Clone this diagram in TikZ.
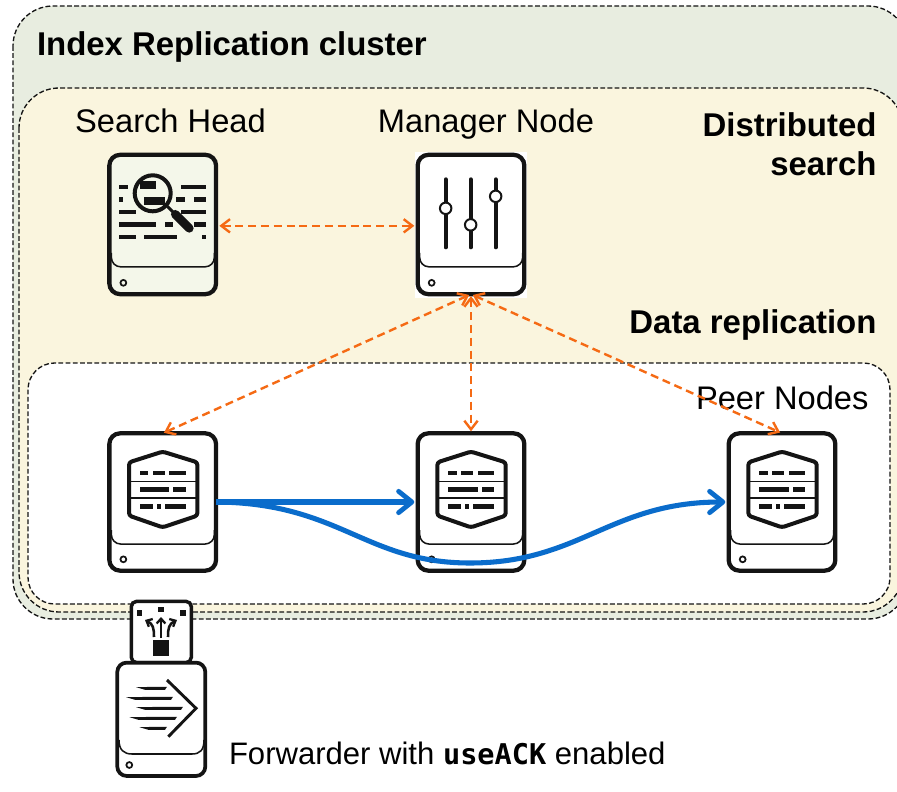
\documentclass[tikz,border=0pt]{standalone}
\usepackage{fontspec}
\setmainfont{Liberation Sans}
\newfontfamily\monob[Scale=0.92]{DejaVu Sans Mono}
\usetikzlibrary{arrows.meta}
\definecolor{outerfill}{HTML}{E8EDE0}
\definecolor{midfill}{HTML}{FAF5DE}
\definecolor{shfill}{HTML}{F4F7EA}
\definecolor{ink}{HTML}{141414}
\definecolor{orangeln}{HTML}{F56A14}
\definecolor{blueln}{HTML}{0A6CCB}
\tikzset{
  frame/.style={draw=ink,line width=1pt,dash pattern=on 3.6pt off 1.8pt,rounded corners=#1},
  server/.style={draw=ink,fill=white,line width=3.2pt,rounded corners=8pt,inner sep=0pt,outer sep=0pt,minimum width=80pt,minimum height=104.5pt},
  fwdbox/.style={draw=ink,fill=white,line width=2.8pt,rounded corners=7pt,inner sep=0pt,outer sep=0pt,minimum width=66pt,minimum height=85pt},
  usbbox/.style={draw=ink,fill=white,line width=2.6pt,inner sep=0pt,outer sep=0pt,minimum width=45pt,minimum height=45pt},
  lab/.style={font=\fontsize{24.5}{29}\selectfont,text=black,inner sep=0pt,outer sep=0pt},
  flab/.style={font=\fontsize{23.3}{28}\selectfont,text=black,inner sep=0pt,outer sep=0pt},
  blab/.style={font=\fontsize{24.7}{29.5}\selectfont\bfseries,text=black,inner sep=0pt,outer sep=0pt},
  ctrl/.style={draw=orangeln,line width=1.8pt,dash pattern=on 6pt off 3.6pt,{Straight Barb[length=6.5pt,width=10pt,line width=1.8pt]}-{Straight Barb[length=6.5pt,width=10pt,line width=1.8pt]}},
  repl/.style={draw=blueln,line width=3.8pt,-{Straight Barb[length=10pt,width=16pt,line width=3.6pt,round]}},
  thin/.style={line width=1.15pt,draw=ink},
  usbarrow/.style={ink,line width=1.9pt,-{Straight Barb[length=3.6pt,width=6.5pt,line width=1.7pt]}},
}
% lower-panel line and hole of a server box
\newcommand{\bayline}[4]{% node, width, height, line y
  \begin{scope}[shift={(#1.north west)}]
    \draw[thin,rounded corners=7pt] (2,#4-14) -- (2,#4) -- (#2-2,#4) -- (#2-2,#4-14);
    \draw[ink,line width=1.3pt] (14,#3-15) circle (2.2pt);
  \end{scope}}
\newcommand{\peericon}[1]{%
  \begin{scope}[shift={(#1.north west)}]
    \draw[ink,line width=3pt,line join=round,rounded corners=2pt] (53.3,18.3) -- (88,29) -- (88,82.3) -- (53.3,94) -- (19.7,82.3) -- (19.7,29) -- cycle;
    \draw[thin] (19.7,48) -- (88,48) (19.7,64.7) -- (88,64.7);
    \foreach \a/\b/\y in {30.7/39/39.7,43.3/55.7/39.7,60/76.7/39.7,
                          30.7/60/56.3,64/76.7/56.3,
                          30.7/43.3/73,47.3/51.7/73,55.7/76.7/73}
      \fill[ink] (\a,\y-2.2) rectangle (\b,\y+2.2);
  \end{scope}}
\begin{document}
\begin{tikzpicture}[x=0.75pt,y=-0.75pt]
\useasboundingbox (0,0) rectangle (897,792);
\fill[white] (0,0) rectangle (897,792);
\begin{scope}
  \clip (0,0) rectangle (897,792);
  \path[frame=30pt,fill=outerfill] (13,6) rectangle (908,619);
  \path[frame=30pt,fill=midfill] (19,88) rectangle (903,612);
  \path[frame=20pt,fill=white] (28,363) rectangle (890,604);
\end{scope}

% labels
\node[blab,anchor=base west] (title) at (37,56) {Index Replication cluster};
\node[lab,anchor=base] (shl) at (170.5,132.3) {Search Head};
\node[lab,anchor=base] (mnl) at (486,132.3) {Manager Node};
\node[blab,anchor=base east] (ds1) at (876.5,136.7) {Distributed};
\node[blab,anchor=base east] (ds2) at (876.5,175.3) {search};
\node[blab,anchor=base east] (drl) at (876.5,333.5) {Data replication};
\node[lab,anchor=base west] (pnl) at (696,409.3) {Peer Nodes};
\node[flab,anchor=base west] (fwl) at (229,764) {Forwarder with {\monob\bfseries useACK} enabled};

% Search head
\node[server,fill=shfill] (sh) at (162.7,224.5) {};
\begin{scope}[shift={(107.3,153.3)}]
  \foreach \a/\b/\y in {12/21/33.7,74/99/33.7,
                        12/16/46,69/78/46,87/99/46,
                        12/29/58.4,74/99/58.4,
                        12/49/71,58/66/71,87/99/71,
                        12/29/83.4,37/70/83.4,95/99/83.4}
    \fill[ink] (\a,\y-2.2) rectangle (\b,\y+2.2);
  \fill[shfill] (45.4,40) circle (13.5pt);
  \fill[ink] (33,28) rectangle (49,35.5);
  \fill[ink] (37,44) rectangle (58,52);
  \draw[ink,line width=3pt] (45.4,40) circle (13.5pt);
  \draw[ink,line width=2.2pt] (60,53) -- (66,59);
  \draw[ink,line width=6.5pt,line cap=round] (68,61) -- (82,75);
\end{scope}
\bayline{sh}{107}{143}{112}

% Manager node
\fill[white] (415,152) rectangle (527,298);
\node[server] (mn) at (471,224.5) {};
\begin{scope}[shift={(mn.north west)}]
  \foreach \x/\k in {28/53.5,53/70,78/41.5}{
    \draw[ink,line width=3pt,line cap=round] (\x,24.5) -- (\x,92.5);
    \draw[ink,line width=1.5pt,fill=white] (\x,\k) circle (4.3pt);
  }
\end{scope}
\bayline{mn}{107}{143}{112}

% Peers
\node[server,minimum height=103pt] (p1) at (162.7,502) {};
\node[server,minimum height=103pt] (p2) at (471,502) {};
\node[server,minimum height=103pt] (p3) at (782,502) {};
\foreach \n in {p1,p2,p3}{\peericon{\n}\bayline{\n}{107}{141}{110.7}}

% Forwarder USB stick
\node[usbbox,rounded corners=4pt,minimum width=45pt,minimum height=46pt] (usb) at (161.3,632) {};
\begin{scope}[shift={(100,590)}]
  \foreach \x/\y in {39.3/22.7,61/19.3,82.7/22.7}
    \fill[ink] (\x-2.8,\y-2.8) rectangle (\x+2.8,\y+2.8);
  \fill[ink] (52.7,50) rectangle (69.3,66);
  \draw[usbarrow] (61,48) -- (61,27);
  \draw[usbarrow] (54,47) .. controls (54,38) and (53,34) .. (45,30);
  \draw[usbarrow] (68,47) .. controls (68,38) and (69,34) .. (77,30);
\end{scope}

% Forwarder
\node[fwdbox] (fw) at (161.3,719.3) {};
\begin{scope}[shift={(100,590)}]
  \foreach \a/\b/\y in {36/67/98.3,26/73/108.3,36/83/118.3,29.3/77/128.3,39.3/67/138.3}
    \fill[ink] (\a,\y-1.2) -- (\b,\y-1.5) -- (\b-2,\y+1.5) -- (\a+9,\y+1.5) -- cycle;
  \draw[ink,line width=2.2pt] (67,90) -- (96,118.3) -- (68.3,146.7);
  \draw[thin] (19,150) .. controls (19,160) and (24,164) .. (32,164) -- (92,164) .. controls (100,164) and (104,160) .. (104,150);
  \draw[ink,line width=1.3pt] (29.3,175) circle (2.2pt);
\end{scope}

% Control links
\draw[ctrl,shorten <=2.5pt,shorten >=2.5pt] ([yshift=-1pt]sh.east) -- ([yshift=-1pt]mn.west);
\draw[ctrl,shorten <=1.5pt,shorten >=1pt] (mn.south) -- (p1.north);
\draw[ctrl,shorten <=1.5pt,shorten >=1.5pt] (mn.south) -- (p2.north);
\draw[ctrl,shorten <=1.5pt,shorten >=1.5pt] (mn.south) -- (p3.north);

% Replication links
\draw[repl,shorten >=2.5pt] (p1.east) -- (p2.west);
\draw[repl,shorten >=2.5pt] (p1.east) .. controls (340,503) and (365,563) .. (470,563) .. controls (580,563) and (610,502) .. (p3.west);
\end{tikzpicture}
\end{document}
